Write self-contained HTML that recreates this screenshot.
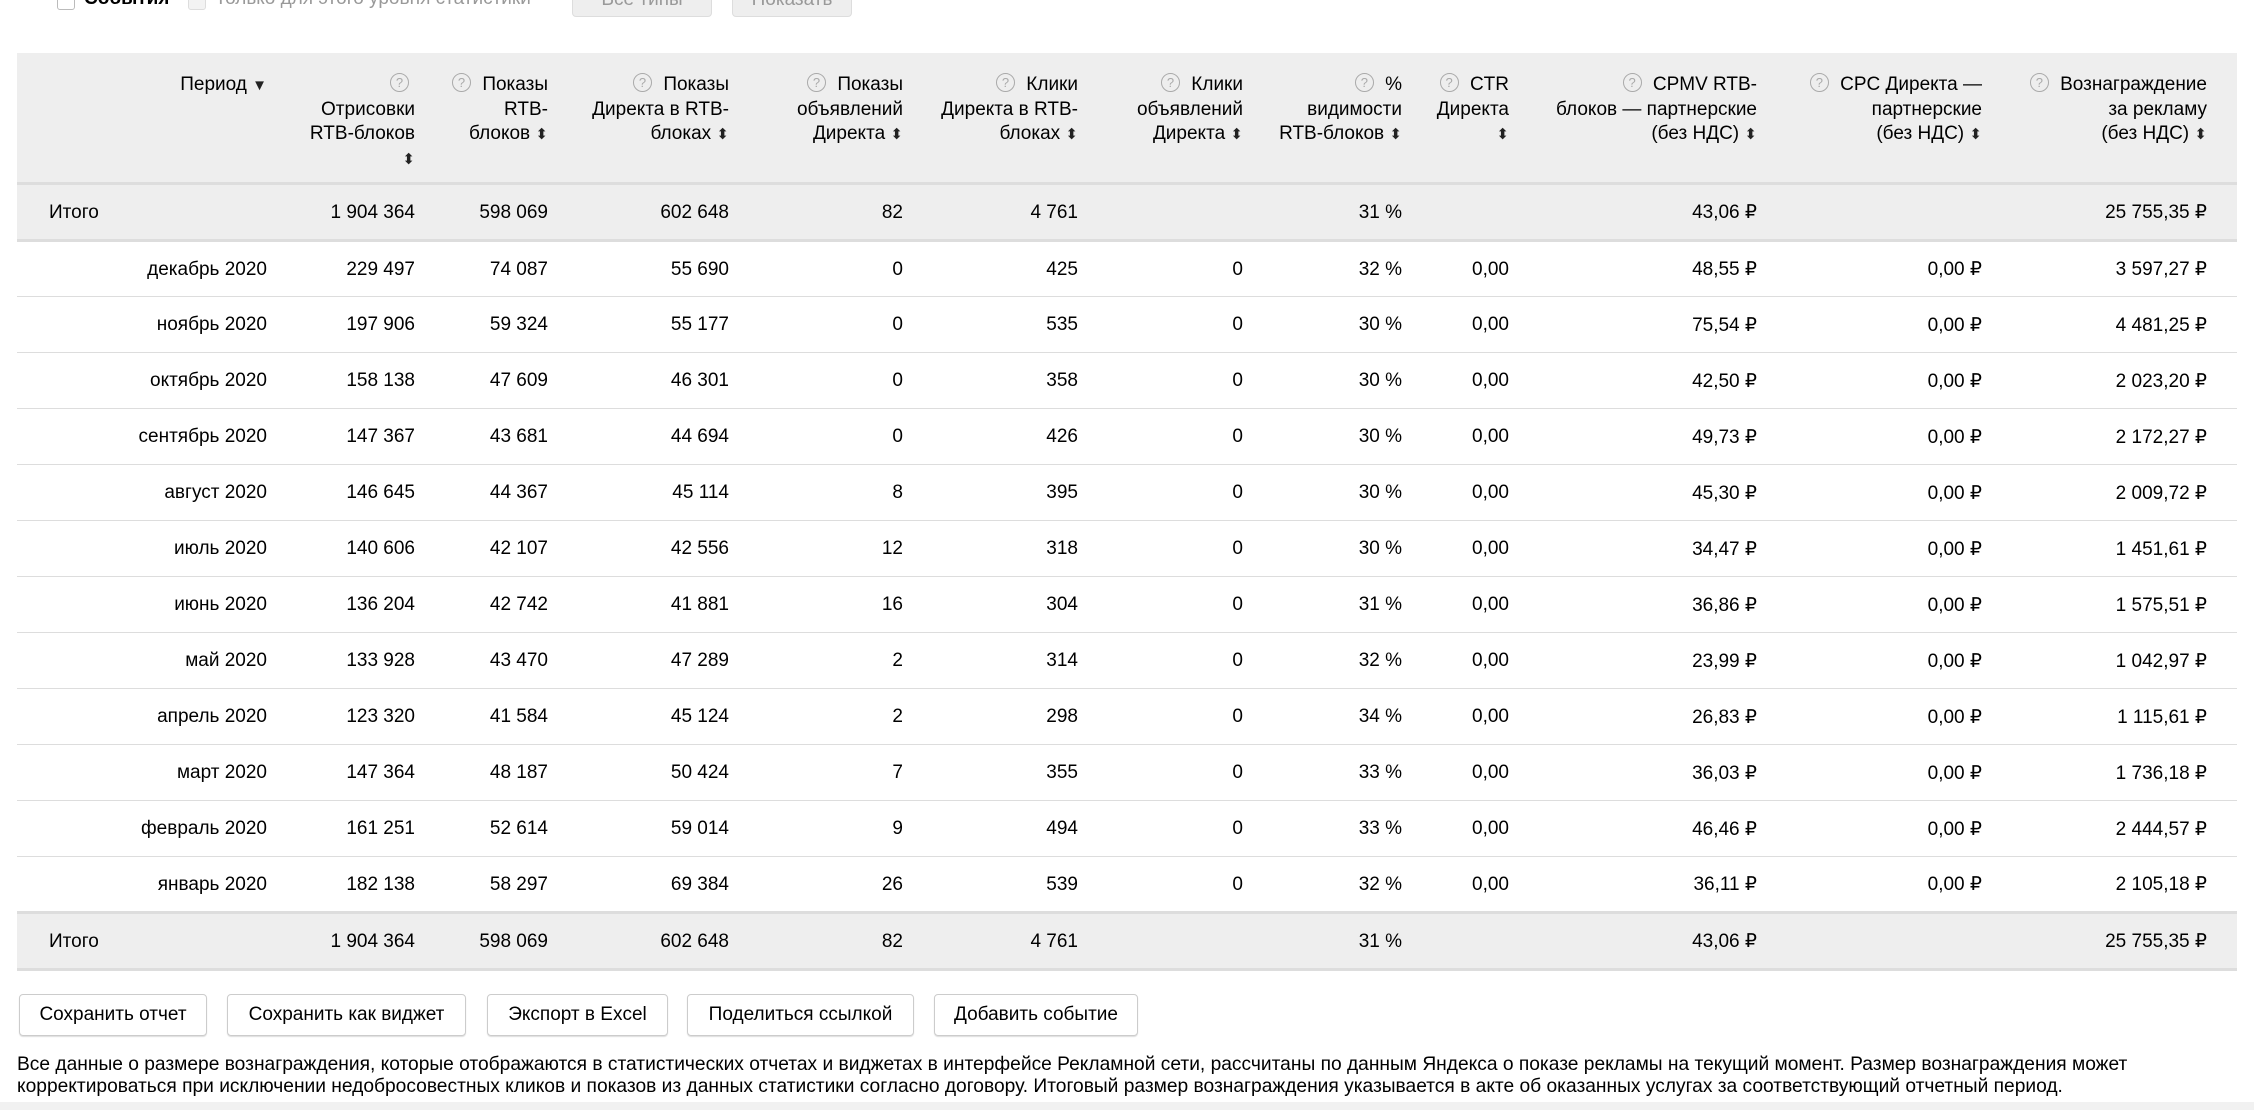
<!DOCTYPE html>
<html><head><meta charset="utf-8">
<style>
*{box-sizing:border-box;margin:0;padding:0}
body{width:2254px;height:1110px;overflow:hidden;background:#fff;font-family:"Liberation Sans",sans-serif;color:#000;font-size:19px;position:relative}
.top{position:absolute;top:0;left:0;height:20px;width:100%}
.cb{position:absolute;top:-8px;width:18px;height:18px;border:1px solid #bbb;border-radius:3px;background:#fff}
.tb{position:absolute;top:-14px;height:31px;background:#eee;border:1px solid #ddd;border-radius:4px;font-size:19px;color:#999;text-align:center;line-height:26px}
table{position:absolute;left:17px;top:53px;border-collapse:collapse;table-layout:fixed;width:2220px}
td,th{text-align:right;padding:0;white-space:nowrap;font-weight:normal;vertical-align:middle}
thead th{background:#eee;height:130px;vertical-align:top;padding-top:20px;line-height:24.5px}
tr.tot td{background:#eee;height:57px;border-top:3px solid #ddd;border-bottom:3px solid #ddd;padding-top:2px}
tr.r td{height:56px;border-bottom:1px solid #ddd;padding-top:2px}
.q{display:inline-block;width:19px;height:19px;border:1px solid #aaa;border-radius:50%;color:#aaa;font-size:13px;line-height:17px;text-align:center;vertical-align:3px;margin-right:6px}
.s{font-size:15px;color:#222}
.btn{position:absolute;top:994px;height:42px;border:1px solid #ccc;border-radius:4px;font-size:19px;line-height:40px;text-align:center;box-shadow:0 1px 1px #ddd}
.foot{position:absolute;left:17px;top:1054px;font-size:19.2px;line-height:22px;width:2230px;white-space:nowrap}
.fl{position:absolute;left:0;top:1102px;width:100%;height:8px;background:#f1f1f1}
</style></head><body>
<div class="top">
<div class="cb" style="left:57px"></div><span style="position:absolute;left:84px;top:-12px;font-weight:bold">События</span>
<div class="cb" style="left:188px;background:#f3f3f3;border-color:#ddd"></div><span style="position:absolute;left:215px;top:-12px;color:#999">Только для этого уровня статистики</span>
<div class="tb" style="left:572px;width:140px">Все типы</div>
<div class="tb" style="left:732px;width:120px">Показать</div>
</div>
<table>
<colgroup><col style="width:250px"><col style="width:148px"><col style="width:133px"><col style="width:181px"><col style="width:174px"><col style="width:175px"><col style="width:165px"><col style="width:159px"><col style="width:107px"><col style="width:248px"><col style="width:225px"><col style="width:225px"><col style="width:30px"></colgroup>
<thead><tr>
<th>Период <span class="s">▼</span></th>
<th><span class="q">?</span><br>Отрисовки<br>RTB-блоков<br><span class="s">⬍</span></th>
<th><span class="q">?</span> Показы<br>RTB-<br>блоков <span class="s">⬍</span></th>
<th><span class="q">?</span> Показы<br>Директа в RTB-<br>блоках <span class="s">⬍</span></th>
<th><span class="q">?</span> Показы<br>объявлений<br>Директа <span class="s">⬍</span></th>
<th><span class="q">?</span> Клики<br>Директа в RTB-<br>блоках <span class="s">⬍</span></th>
<th><span class="q">?</span> Клики<br>объявлений<br>Директа <span class="s">⬍</span></th>
<th><span class="q">?</span> %<br>видимости<br>RTB-блоков <span class="s">⬍</span></th>
<th><span class="q">?</span> CTR<br>Директа<br><span class="s">⬍</span></th>
<th><span class="q">?</span> CPMV RTB-<br>блоков — партнерские<br>(без НДС) <span class="s">⬍</span></th>
<th><span class="q">?</span> CPC Директа —<br>партнерские<br>(без НДС) <span class="s">⬍</span></th>
<th><span class="q">?</span> Вознаграждение<br>за рекламу<br>(без НДС) <span class="s">⬍</span></th>
<th></th>
</tr></thead>
<tbody>
<tr class="tot"><td style="text-align:left;padding-left:32px">Итого</td><td>1 904 364</td><td>598 069</td><td>602 648</td><td>82</td><td>4 761</td><td></td><td>31 %</td><td></td><td>43,06 ₽</td><td></td><td>25 755,35 ₽</td><td></td></tr>
<tr class="r"><td>декабрь 2020</td><td>229 497</td><td>74 087</td><td>55 690</td><td>0</td><td>425</td><td>0</td><td>32 %</td><td>0,00</td><td>48,55 ₽</td><td>0,00 ₽</td><td>3 597,27 ₽</td><td></td></tr>
<tr class="r"><td>ноябрь 2020</td><td>197 906</td><td>59 324</td><td>55 177</td><td>0</td><td>535</td><td>0</td><td>30 %</td><td>0,00</td><td>75,54 ₽</td><td>0,00 ₽</td><td>4 481,25 ₽</td><td></td></tr>
<tr class="r"><td>октябрь 2020</td><td>158 138</td><td>47 609</td><td>46 301</td><td>0</td><td>358</td><td>0</td><td>30 %</td><td>0,00</td><td>42,50 ₽</td><td>0,00 ₽</td><td>2 023,20 ₽</td><td></td></tr>
<tr class="r"><td>сентябрь 2020</td><td>147 367</td><td>43 681</td><td>44 694</td><td>0</td><td>426</td><td>0</td><td>30 %</td><td>0,00</td><td>49,73 ₽</td><td>0,00 ₽</td><td>2 172,27 ₽</td><td></td></tr>
<tr class="r"><td>август 2020</td><td>146 645</td><td>44 367</td><td>45 114</td><td>8</td><td>395</td><td>0</td><td>30 %</td><td>0,00</td><td>45,30 ₽</td><td>0,00 ₽</td><td>2 009,72 ₽</td><td></td></tr>
<tr class="r"><td>июль 2020</td><td>140 606</td><td>42 107</td><td>42 556</td><td>12</td><td>318</td><td>0</td><td>30 %</td><td>0,00</td><td>34,47 ₽</td><td>0,00 ₽</td><td>1 451,61 ₽</td><td></td></tr>
<tr class="r"><td>июнь 2020</td><td>136 204</td><td>42 742</td><td>41 881</td><td>16</td><td>304</td><td>0</td><td>31 %</td><td>0,00</td><td>36,86 ₽</td><td>0,00 ₽</td><td>1 575,51 ₽</td><td></td></tr>
<tr class="r"><td>май 2020</td><td>133 928</td><td>43 470</td><td>47 289</td><td>2</td><td>314</td><td>0</td><td>32 %</td><td>0,00</td><td>23,99 ₽</td><td>0,00 ₽</td><td>1 042,97 ₽</td><td></td></tr>
<tr class="r"><td>апрель 2020</td><td>123 320</td><td>41 584</td><td>45 124</td><td>2</td><td>298</td><td>0</td><td>34 %</td><td>0,00</td><td>26,83 ₽</td><td>0,00 ₽</td><td>1 115,61 ₽</td><td></td></tr>
<tr class="r"><td>март 2020</td><td>147 364</td><td>48 187</td><td>50 424</td><td>7</td><td>355</td><td>0</td><td>33 %</td><td>0,00</td><td>36,03 ₽</td><td>0,00 ₽</td><td>1 736,18 ₽</td><td></td></tr>
<tr class="r"><td>февраль 2020</td><td>161 251</td><td>52 614</td><td>59 014</td><td>9</td><td>494</td><td>0</td><td>33 %</td><td>0,00</td><td>46,46 ₽</td><td>0,00 ₽</td><td>2 444,57 ₽</td><td></td></tr>
<tr class="r"><td>январь 2020</td><td>182 138</td><td>58 297</td><td>69 384</td><td>26</td><td>539</td><td>0</td><td>32 %</td><td>0,00</td><td>36,11 ₽</td><td>0,00 ₽</td><td>2 105,18 ₽</td><td></td></tr>
<tr class="tot"><td style="text-align:left;padding-left:32px">Итого</td><td>1 904 364</td><td>598 069</td><td>602 648</td><td>82</td><td>4 761</td><td></td><td>31 %</td><td></td><td>43,06 ₽</td><td></td><td>25 755,35 ₽</td><td></td></tr>
</tbody></table>
<div class="btn" style="left:19px;width:188px">Сохранить отчет</div>
<div class="btn" style="left:227px;width:239px">Сохранить как виджет</div>
<div class="btn" style="left:487px;width:181px">Экспорт в Excel</div>
<div class="btn" style="left:687px;width:227px">Поделиться ссылкой</div>
<div class="btn" style="left:934px;width:204px">Добавить событие</div>
<div class="foot">Все данные о размере вознаграждения, которые отображаются в статистических отчетах и виджетах в интерфейсе Рекламной сети, рассчитаны по данным Яндекса о показе рекламы на текущий момент. Размер вознаграждения может<br>корректироваться при исключении недобросовестных кликов и показов из данных статистики согласно договору. Итоговый размер вознаграждения указывается в акте об оказанных услугах за соответствующий отчетный период.</div>
<div class="fl"></div>
</body></html>
